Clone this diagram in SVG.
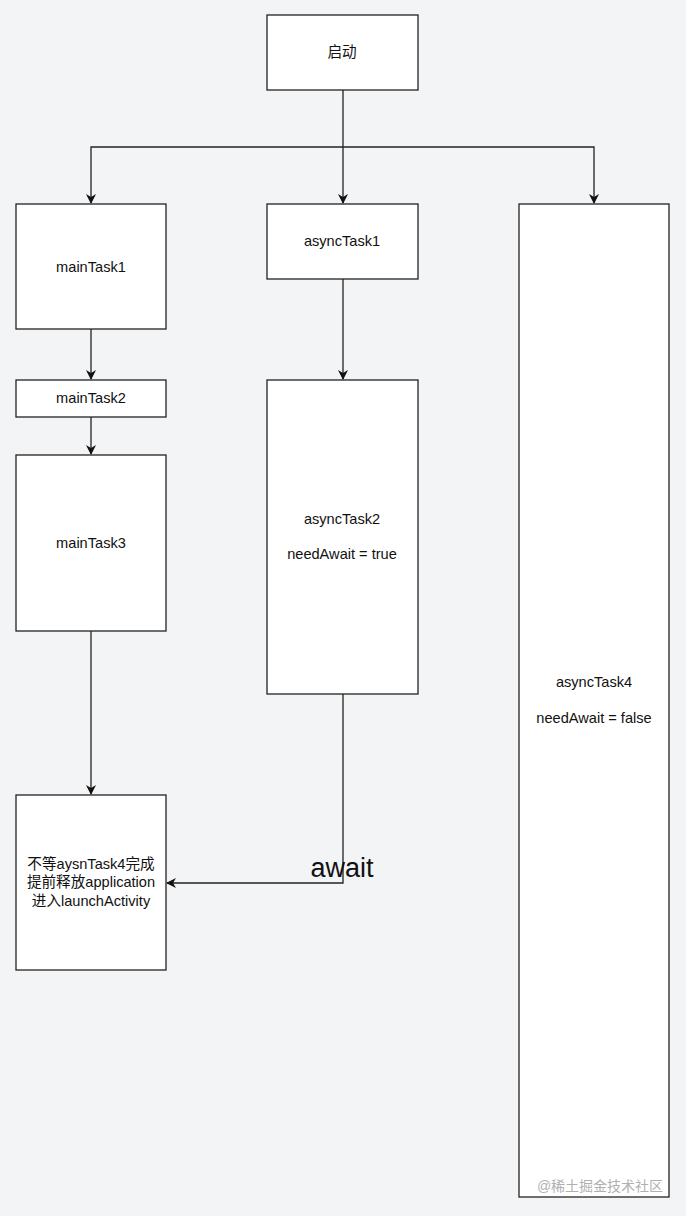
<svg xmlns="http://www.w3.org/2000/svg" width="686" height="1216" viewBox="0 0 686 1216">
<style>
.box{fill:#fff;stroke:#222;stroke-width:1.3}
.t{font-family:"Liberation Sans","Noto Sans CJK SC",sans-serif;font-size:14.6px;fill:#111;text-anchor:middle}
.e{fill:none;stroke:#222;stroke-width:1.3}
</style>
<defs>
<marker id="arr" viewBox="0 0 10 10" refX="9" refY="5" markerWidth="10" markerHeight="10" orient="auto" markerUnits="userSpaceOnUse">
<path d="M0,0 L10,5 L0,10 L3,5 Z" fill="#111"/>
</marker>
</defs>
<rect x="0" y="0" width="686" height="1216" fill="#f3f4f6"/>
<g id="connectors">
<path class="e" d="M343,90 V203" marker-end="url(#arr)"/>
<path class="e" d="M343,147 H91 V203" marker-end="url(#arr)"/>
<path class="e" d="M343,147 H594 V203" marker-end="url(#arr)"/>
<path class="e" d="M91,329 V379" marker-end="url(#arr)"/>
<path class="e" d="M91,417 V454" marker-end="url(#arr)"/>
<path class="e" d="M343,279 V379" marker-end="url(#arr)"/>
<path class="e" d="M91,631 V794" marker-end="url(#arr)"/>
<path class="e" d="M343,694 V883 H167" marker-end="url(#arr)"/>
<text x="342" y="877" font-family="Liberation Sans,sans-serif" font-size="27" fill="#111" text-anchor="middle">await</text>
</g>
<g id="start"><rect class="box" x="267" y="15" width="151" height="75"/><text class="t" x="342" y="57">启动</text></g>
<g id="mainTask1"><rect class="box" x="16" y="204" width="150" height="125"/><text class="t" x="91" y="272">mainTask1</text></g>
<g id="mainTask2"><rect class="box" x="16" y="380" width="150" height="37"/><text class="t" x="91" y="403">mainTask2</text></g>
<g id="mainTask3"><rect class="box" x="16" y="455" width="150" height="176"/><text class="t" x="91" y="548">mainTask3</text></g>
<g id="launch"><rect class="box" x="16" y="795" width="150" height="175"/>
<text class="t" x="91" y="869">不等aysnTask4完成</text>
<text class="t" x="91" y="887">提前释放application</text>
<text class="t" x="91" y="906">进入launchActivity</text></g>
<g id="asyncTask1"><rect class="box" x="267" y="204" width="151" height="75"/><text class="t" x="342" y="246">asyncTask1</text></g>
<g id="asyncTask2"><rect class="box" x="267" y="380" width="151" height="314"/>
<text class="t" x="342" y="524">asyncTask2</text>
<text class="t" x="342" y="559">needAwait = true</text></g>
<g id="asyncTask4"><rect class="box" x="519" y="204" width="150" height="993"/>
<text class="t" x="594" y="687">asyncTask4</text>
<text class="t" x="594" y="723">needAwait = false</text></g>
<text x="600" y="1191" font-family="Liberation Sans,'Noto Sans CJK SC',sans-serif" font-size="14" fill="#b0b0b0" text-anchor="middle">@稀土掘金技术社区</text>
</svg>
